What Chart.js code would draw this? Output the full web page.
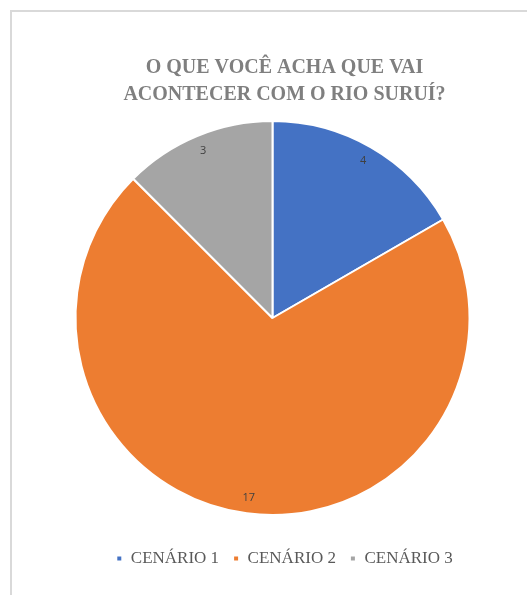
<!DOCTYPE html>
<html>
<head>
<meta charset="utf-8">
<script src="https://cdn.jsdelivr.net/npm/chart.js@4/dist/chart.umd.min.js"></script>
<style>
  html, body { margin: 0; padding: 0; background: #fff; }
  #frame {
    position: absolute;
    left: 10px;
    top: 10px;
    width: 517px;
    height: 585px;
    border-left: 2px solid #d9d9d9;
    border-top: 2px solid #d9d9d9;
    box-sizing: border-box;
  }
  #chart { display: block; }
</style>
</head>
<body>
<div id="frame"><canvas id="chart" width="515" height="583"></canvas></div>
<script>
// Dados do gráfico
const categorias = ["CENÁRIO 1", "CENÁRIO 2", "CENÁRIO 3"];
const valores = [4, 17, 3];
const cores = ["#4472c4", "#ed7d31", "#a5a5a5"];
const titulo = ["O QUE VOCÊ ACHA QUE VAI", "ACONTECER COM O RIO SURUÍ?"];

// Rótulos de dados dentro das fatias (perto da borda)
const rotulosPlugin = {
  id: "rotulos",
  afterDatasetsDraw(chart) {
    const ctx = chart.ctx;
    const meta = chart.getDatasetMeta(0);
    ctx.save();
    ctx.font = "11px 'Open Sans', sans-serif";
    ctx.fillStyle = "#404040";
    ctx.textAlign = "center";
    ctx.textBaseline = "middle";
    meta.data.forEach(function (arc, i) {
      const p = arc.getProps(["x", "y", "startAngle", "endAngle", "outerRadius"], true);
      const a = (p.startAngle + p.endAngle) / 2;
      const r = p.outerRadius * 0.92;
      ctx.fillText(String(valores[i]), p.x + Math.cos(a) * r, p.y + Math.sin(a) * r);
    });
    ctx.restore();
  },
};

// Título e legenda ficam um pouco à direita do centro da pizza
const deslocPlugin = {
  id: "deslocamento",
  afterLayout(chart) {
    const lg = chart.legend;
    if (lg) {
      lg.left += 12;
      lg.right += 12;
      lg.top += 22;
      lg.bottom += 22;
    }
    const tb = chart.titleBlock;
    if (tb) {
      tb.left += 12;
      tb.right += 12;
    }
  },
};

new Chart(document.getElementById("chart").getContext("2d"), {
  type: "pie",
  data: {
    labels: categorias,
    datasets: [
      {
        data: valores,
        backgroundColor: cores,
        borderColor: "#ffffff",
        borderWidth: 2,
        radius: 197,
      },
    ],
  },
  options: {
    responsive: false,
    animation: false,
    layout: {
      padding: { top: 42, bottom: 40, left: 6, right: 0 },
    },
    plugins: {
      title: {
        display: true,
        text: titulo,
        color: "#7f7f7f",
        font: { family: "'Liberation Serif', 'Times New Roman', serif", size: 20, weight: "bold", lineHeight: 1.35 },
        padding: { top: 0, bottom: 14 },
      },
      legend: {
        position: "bottom",
        labels: {
          color: "#595959",
          font: { family: "'Liberation Serif', 'Times New Roman', serif", size: 17 },
          boxWidth: 6,
          boxHeight: 6,
          padding: 14,
        },
      },
      tooltip: { enabled: false },
    },
  },
  plugins: [rotulosPlugin, deslocPlugin],
});
</script>
</body>
</html>
